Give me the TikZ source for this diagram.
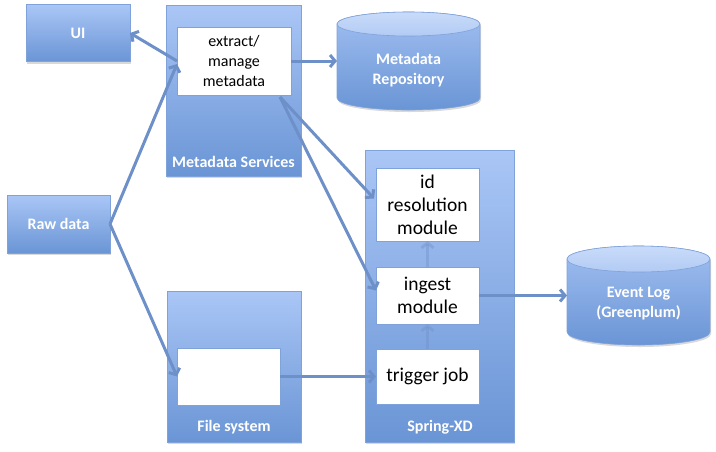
\documentclass[tikz,border=0pt]{standalone}
\usepackage{fontspec}
\setmainfont{Carlito}
\usetikzlibrary{arrows.meta,calc,shadows}
\definecolor{boxtop}{HTML}{AAC6F6}
\definecolor{boxbot}{HTML}{6A95D5}
\definecolor{boxline}{HTML}{7FA2DA}
\definecolor{cyltop}{HTML}{C9DBF9}
\definecolor{cyltopb}{HTML}{B2CBF4}
\definecolor{arrowc}{HTML}{6E90C8}
\newcommand{\mycyl}[6]{%
  % #1 x1, #2 ytop, #3 x2, #4 ybot, #5 rx, #6 ry
  \path[draw=boxline, line width=0.6pt, top color=boxtop!85!boxbot, bottom color=boxbot,
        drop shadow={opacity=0.3, shadow xshift=1pt, shadow yshift=-2pt}]
    (#1,#2+#6) -- (#1,#4-#6)
    arc[start angle=180, end angle=360, x radius=#5pt, y radius=#6pt]
    -- (#3,#2+#6)
    arc[start angle=0, end angle=180, x radius=#5pt, y radius=#6pt] -- cycle;
  \path[draw=boxline, line width=0.6pt, top color=cyltop, bottom color=cyltopb]
    ({(#1+#3)/2},#2+#6) ellipse[x radius=#5pt, y radius=#6pt];
}
\begin{document}
\begin{tikzpicture}[x=1pt,y=-1pt,
  bluebox/.style={draw=boxline, line width=0.6pt, top color=boxtop, bottom color=boxbot,
    drop shadow={opacity=0.3, shadow xshift=1pt, shadow yshift=-2pt},
    inner sep=0pt, outer sep=0pt, text=white, font=\fontsize{16}{20}\selectfont\bfseries, align=center},
  whitebox/.style={draw=boxline, line width=0.6pt, fill=white, inner sep=0pt, outer sep=0pt,
    text=black, align=center},
  wlabel/.style={text=white, font=\fontsize{16}{20}\selectfont\bfseries, align=center, inner sep=0pt},
  anchorbox/.style={inner sep=0pt, outer sep=0pt},
  arr/.style={draw=arrowc, line width=3pt, -{Straight Barb[length=5pt,width=12pt]}},
  fadearr/.style={arr, draw opacity=0.4},
]
\useasboundingbox (0,0) rectangle (716,451);

% left boxes
\node[bluebox, minimum width=104pt, minimum height=57pt] (UI) at (78,33) {UI};
\node[bluebox, minimum width=103pt, minimum height=58pt] (raw) at (58.5,224) {Raw data};

% Metadata services
\node[bluebox, minimum width=135pt, minimum height=171pt] (MS) at (233.5,90.5) {};
\node[whitebox, minimum width=114pt, minimum height=68pt, font=\fontsize{16}{20}\selectfont] (extract) at (234,61) {extract/\\manage\\metadata};
\node[wlabel] (MSl) at (233.5,162) {Metadata Services};

% File system
\node[bluebox, minimum width=134pt, minimum height=151pt] (FS) at (234,366.5) {};
\node[whitebox, minimum width=103pt, minimum height=57pt] (fsin) at (228.5,376.5) {};
\node[wlabel] (FSl) at (234,427) {File system};

% Spring-XD
\node[bluebox, minimum width=149pt, minimum height=292pt] (SX) at (439.5,296) {};
\node[whitebox, minimum width=103pt, minimum height=73pt, font=\fontsize{19.5}{23}\selectfont] (idres) at (427.5,204.5) {id\\resolution\\module};
\node[whitebox, minimum width=103pt, minimum height=57pt, font=\fontsize{19.5}{23}\selectfont] (ingest) at (427.5,295.5) {ingest\\module};
\node[whitebox, minimum width=103pt, minimum height=55pt, font=\fontsize{19.5}{23}\selectfont] (trigger) at (427.5,376.5) {trigger job};
\node[wlabel] (SXl) at (440,427) {Spring-XD};

% cylinders
\mycyl{337}{12}{480}{110}{71.5}{12}
\node[anchorbox, minimum width=143pt, minimum height=98pt] (MR) at (408.5,61) {};
\node[wlabel] (MRt) at (408.5,70) {Metadata\\Repository};

\mycyl{567}{246}{710}{345}{71.5}{13}
\node[anchorbox, minimum width=143pt, minimum height=99pt] (EL) at (638.5,295.5) {};
\node[wlabel] (ELt) at (638.5,304) {Event Log\\(Greenplum)};

% connectors
\draw[arr] (extract.west) -- (UI.east);
\draw[arr] (raw.east) -- ($(extract.west)+(0,3)$);
\draw[arr] (raw.east) -- (fsin.west);
\draw[arr] (extract.east) -- (MR.west);
\coordinate (exbr) at ($(extract.south east)+(-11,2)$);
\draw[arr] (exbr) -- ($(idres.west)+(-2,-6)$);
\draw[arr] (exbr) -- ($(ingest.west)+(0,-5)$);
\draw[arr] (fsin.east) -- (trigger.west);
\draw[fadearr] (trigger.north) -- (ingest.south);
\draw[fadearr] (ingest.north) -- (idres.south);
\draw[arr] (ingest.east) -- (EL.west);
\end{tikzpicture}
\end{document}
